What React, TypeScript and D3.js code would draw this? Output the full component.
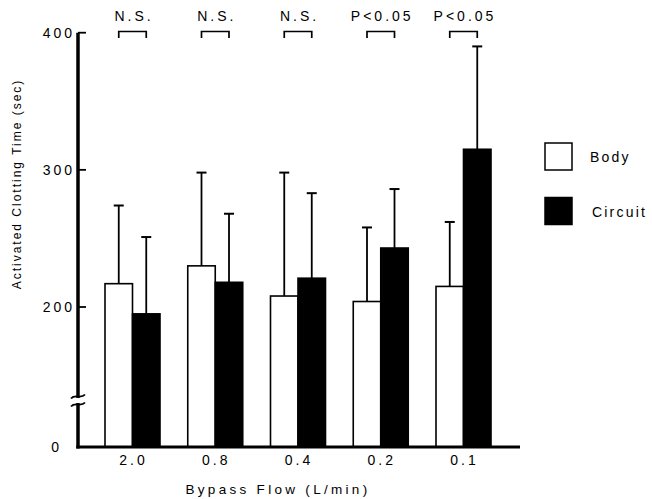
import React, { useRef, useEffect } from 'react';
import * as d3 from 'd3';

// bypass flow groups (L/min)
const flows = ['2.0', '0.8', '0.4', '0.2', '0.1'];
const series = ['Body', 'Circuit'];
// mean activated clotting time (sec)
const bodyMeans = [217, 230, 208, 204, 215];
const circuitMeans = [195, 218, 221, 243, 315];
// mean + SD (top of error bar)
const bodyUpper = [274, 298, 298, 258, 262];
const circuitUpper = [251, 268, 283, 286, 390];
const significance = ['N.S.', 'N.S.', 'N.S.', 'P<0.05', 'P<0.05'];
const yTicks = [0, 200, 300, 400];

const FONT = '"Liberation Sans", Arial, Helvetica, sans-serif';

const App = () => {
    const svgRef = useRef<SVGSVGElement>(null);

    useEffect(() => {
        const svg = d3.select(svgRef.current);
        svg.selectAll('*').remove();

        // broken axis: 0 .. 130 is squeezed below the break
        const y = d3.scaleLinear()
            .domain([0, 130, 400])
            .range([447, 403, 32.7]);

        const x = d3.scalePoint<string>()
            .domain(flows)
            .range([132, 463]);

        const sub = d3.scaleBand<string>()
            .domain(series)
            .range([-27, 28]);

        const axisLeft = 78;
        const axisRight = 520;

        // bars
        const groups = svg.append('g');
        flows.forEach((f, i) => {
            const cx = x(f)!;
            const vals = [bodyMeans[i], circuitMeans[i]];
            const ups = [bodyUpper[i], circuitUpper[i]];
            series.forEach((s, j) => {
                const bx = cx + sub(s)!;
                const bw = sub.bandwidth();
                const mid = bx + bw / 2;
                // error bar
                groups.append('line')
                    .attr('x1', mid).attr('x2', mid)
                    .attr('y1', y(vals[j])).attr('y2', y(ups[j]))
                    .attr('stroke', '#000').attr('stroke-width', 1.8);
                groups.append('line')
                    .attr('x1', mid - 5).attr('x2', mid + 5)
                    .attr('y1', y(ups[j])).attr('y2', y(ups[j]))
                    .attr('stroke', '#000').attr('stroke-width', 2);
                groups.append('rect')
                    .attr('x', bx)
                    .attr('y', y(vals[j]))
                    .attr('width', bw)
                    .attr('height', y(0) - y(vals[j]))
                    .attr('fill', j === 0 ? '#fff' : '#000')
                    .attr('stroke', '#000')
                    .attr('stroke-width', 1.6);
            });

            // significance bracket
            const l = cx + sub('Body')! + sub.bandwidth() / 2;
            const r = cx + sub('Circuit')! + sub.bandwidth() / 2;
            svg.append('path')
                .attr('d', `M${l},38 V31.5 H${r} V38`)
                .attr('fill', 'none')
                .attr('stroke', '#000')
                .attr('stroke-width', 1.7);
            svg.append('text')
                .attr('x', (l + r) / 2 + 1.5)
                .attr('y', 21)
                .attr('text-anchor', 'middle')
                .attr('font-family', FONT)
                .attr('font-size', 14)
                .attr('letter-spacing', 3)
                .text(significance[i]);

            // x tick labels
            svg.append('text')
                .attr('x', cx + 1.5)
                .attr('y', 465)
                .attr('text-anchor', 'middle')
                .attr('font-family', FONT)
                .attr('font-size', 14)
                .attr('letter-spacing', 3)
                .text(f);
        });

        // y axis
        svg.append('line')
            .attr('x1', axisLeft).attr('x2', axisLeft)
            .attr('y1', y(400)).attr('y2', y(0) + 1.5)
            .attr('stroke', '#000').attr('stroke-width', 3.5);
        // x axis
        svg.append('line')
            .attr('x1', axisLeft - 1.7).attr('x2', axisRight)
            .attr('y1', y(0)).attr('y2', y(0))
            .attr('stroke', '#000').attr('stroke-width', 3);

        yTicks.forEach(t => {
            if (t > 0) {
                svg.append('line')
                    .attr('x1', axisLeft).attr('x2', axisLeft + 8)
                    .attr('y1', y(t)).attr('y2', y(t))
                    .attr('stroke', '#000').attr('stroke-width', 1.8);
            }
            svg.append('text')
                .attr('x', t === 0 ? 62 : 75)
                .attr('y', y(t) + 5)
                .attr('text-anchor', 'end')
                .attr('font-family', FONT)
                .attr('font-size', 14)
                .attr('letter-spacing', 3)
                .text(t);
        });

        // axis break
        svg.append('rect')
            .attr('x', axisLeft - 3).attr('y', 398)
            .attr('width', 6).attr('height', 5)
            .attr('fill', '#fff');
        [396.5, 404.5].forEach(by => {
            svg.append('path')
                .attr('d', `M${axisLeft - 7},${by + 2} C${axisLeft - 3},${by - 3} ${axisLeft + 3},${by + 3} ${axisLeft + 7},${by - 2}`)
                .attr('fill', 'none')
                .attr('stroke', '#000')
                .attr('stroke-width', 1.8);
        });

        // axis titles
        svg.append('text')
            .attr('transform', 'translate(21,184) rotate(-90)')
            .attr('text-anchor', 'middle')
            .attr('font-family', FONT)
            .attr('font-size', 12)
            .attr('letter-spacing', 2)
            .text('Activated Clotting Time (sec)');
        svg.append('text')
            .attr('x', 278)
            .attr('y', 494)
            .attr('text-anchor', 'middle')
            .attr('font-family', FONT)
            .attr('font-size', 13.5)
            .attr('letter-spacing', 3.3)
            .text('Bypass Flow (L/min)');

        // legend
        series.forEach((s, j) => {
            const ly = 143 + j * 54.5;
            svg.append('rect')
                .attr('x', 545).attr('y', ly)
                .attr('width', 27).attr('height', 27)
                .attr('fill', j === 0 ? '#fff' : '#000')
                .attr('stroke', '#000').attr('stroke-width', 1.5);
            svg.append('text')
                .attr('x', 590 + j * 2)
                .attr('y', ly + 19)
                .attr('font-family', FONT)
                .attr('font-size', 14)
                .attr('letter-spacing', 2.2)
                .text(s);
        });
    }, []);

    return (
        <svg ref={svgRef} width={652} height={499}
            style={{ position: 'absolute', left: 0, top: 0, background: '#fff' }} />
    );
};

export default App;
